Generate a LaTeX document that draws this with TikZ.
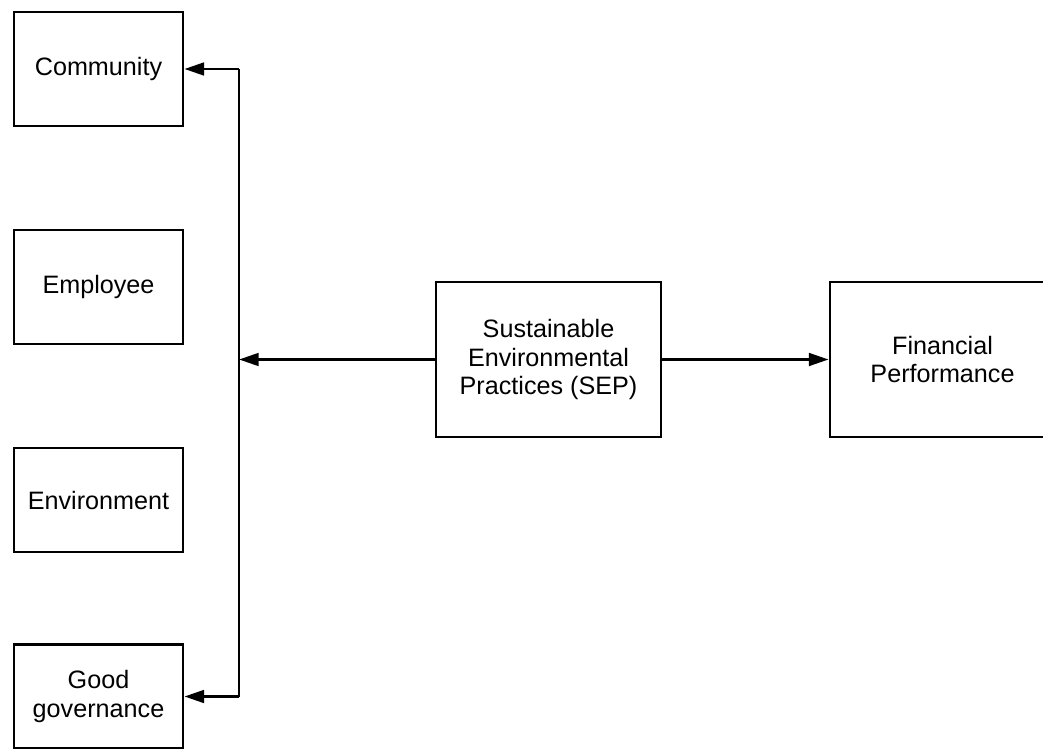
\documentclass[tikz,border=0pt]{standalone}
\usepackage{fontspec}
\setmainfont{Liberation Sans}
\usetikzlibrary{arrows.meta}
\tikzset{every node/.style={draw,line width=2pt,align=center,inner sep=0pt,font=\fontsize{17.9}{20}\selectfont}}
\tikzset{b/.style={minimum width=4.225cm,minimum height=2.85cm}}
\tikzset{s/.style={minimum width=4.225cm,minimum height=2.6cm}}
\tikzset{w/.style={minimum width=5.625cm,minimum height=3.875cm}}

\begin{document}
\begin{tikzpicture}[x=0.025cm,y=-0.025cm,line width=2pt,>={Triangle[length=14pt,width=9pt]}]
      \useasboundingbox (0,0) rectangle (1043,748);
      \node[b] (comm) at (98.5,69) {Community};
      \node[b] (emp) at (98.5,287) {Employee};
      \node[s] (env) at (98.5,500) {Environment};
      \node[s] (gov) at (98.5,696.5) {Good\\governance};
      \node[w] (sep) at (548.5,359.5) {Sustainable\\Environmental\\Practices (SEP)};
      \node[w] (fin) at (942.5,359.5) {Financial\\Performance};
      \coordinate (jt) at (239,69);
      \coordinate (jm) at (239,359.5);
      \coordinate (jb) at (239,696.5);
        \draw (jt) -- (jb);
        \draw[->] (jt) -- (comm);
        \draw[->] (jb) -- (gov);
        \draw[->] (sep) -- (jm);
        \draw[->] (sep) -- (fin);
    \end{tikzpicture}
\end{document}
